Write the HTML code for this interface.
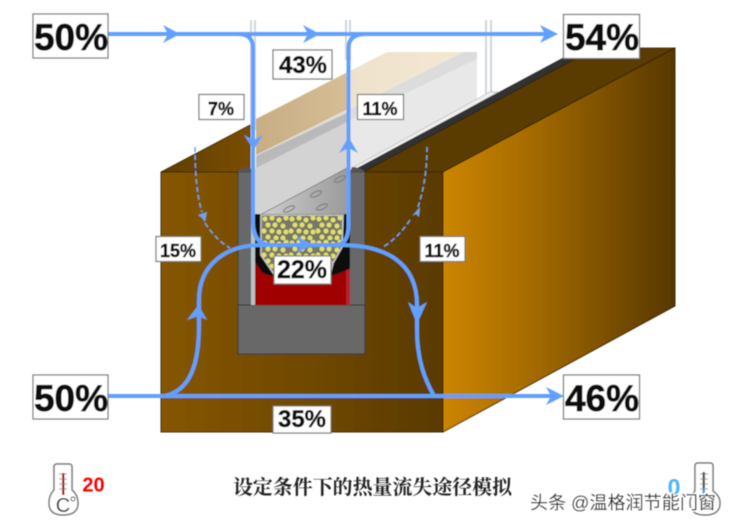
<!DOCTYPE html>
<html><head><meta charset="utf-8"><style>
html,body{margin:0;padding:0;background:#fff}
svg{display:block}
.p{font-family:"Liberation Sans",sans-serif;font-weight:bold;fill:#111;stroke:#111;stroke-width:.7;text-anchor:middle}
.s{stroke-width:.45}
</style></head><body>
<svg width="734" height="526" viewBox="0 0 734 526" xmlns="http://www.w3.org/2000/svg">
<defs>
<linearGradient id="front" x1="0" x2="1" y1="0" y2="0"><stop offset="0" stop-color="#855600"/><stop offset="0.55" stop-color="#6f4802"/><stop offset="1" stop-color="#5a3a05"/></linearGradient>
<linearGradient id="side" x1="0" x2="1" y1="0" y2="0"><stop offset="0" stop-color="#cc8500"/><stop offset="0.35" stop-color="#a86d00"/><stop offset="1" stop-color="#573805"/></linearGradient>
<linearGradient id="topl" x1="0" x2="1" y1="0" y2="0"><stop offset="0" stop-color="#5f3e05"/><stop offset="1" stop-color="#7a4e02"/></linearGradient>
<linearGradient id="tan" gradientUnits="userSpaceOnUse" x1="256" x2="477" y1="0" y2="0"><stop offset="0" stop-color="#c8ad85"/><stop offset="0.41" stop-color="#d6bd94"/><stop offset="0.42" stop-color="#eee2cd"/><stop offset="1" stop-color="#f5e8d2"/></linearGradient>
<linearGradient id="perf" x1="0" x2="1" y1="0" y2="0"><stop offset="0" stop-color="#cfcfcf"/><stop offset="1" stop-color="#999"/></linearGradient>
<pattern id="balls" width="27" height="24" patternUnits="userSpaceOnUse" x="262" y="216">
<rect width="27" height="24" fill="#77776a"/>
<g fill="#e2e06a">
<circle cx="3" cy="3" r="2.5"/><circle cx="10" cy="2" r="2.5"/><circle cx="17" cy="4" r="2.5"/><circle cx="24" cy="2" r="2.5"/>
<circle cx="6" cy="9" r="2.5"/><circle cx="13" cy="9" r="2.5"/><circle cx="21" cy="10" r="2.5"/>
<circle cx="2" cy="15" r="2.5"/><circle cx="10" cy="15" r="2.5"/><circle cx="17" cy="16" r="2.5"/><circle cx="24" cy="16" r="2.5"/>
<circle cx="6" cy="21" r="2.5"/><circle cx="14" cy="22" r="2.5"/><circle cx="21" cy="22" r="2.5"/>
</g>
</pattern>
<filter id="soft"><feGaussianBlur stdDeviation="0.45"/></filter>
</defs>
<g filter="url(#soft)">
<!-- glass pane verticals -->
<g fill="#cfd5d8">
<rect x="250" y="20" width="6" height="110"/>
<rect x="345" y="20" width="6" height="40"/>
<rect x="485" y="20" width="7" height="74"/>
</g>
<rect x="252" y="20" width="2" height="110" fill="#fff"/><rect x="347" y="20" width="2" height="40" fill="#fff"/><rect x="487" y="20" width="3" height="74" fill="#fff"/>
<!-- glass unit -->
<polygon points="256,165 347,122 477,59 477,99 352,168 256,216" fill="#e8e8e8"/>
<polygon points="256,168 347,122 347,171 256,216" fill="#d3d3d3"/>
<polygon points="256,155 347,110 463,52 477,52 477,59 347,122 256,168" fill="#dcdcdc"/>
<polygon points="256,156 347,113 347,122 256,168" fill="#b9b9b9"/>
<polygon points="256,119 387,52 463,52 256,155" fill="url(#tan)"/>
<polygon points="352,168 490,92 498,92 360,170" fill="#f0f0f0" stroke="#b5b5b5" stroke-width=".7"/>
<!-- brown top faces -->
<polygon points="161,172 250,125 250,170 238,172" fill="url(#topl)" stroke="#3a2604" stroke-width=".8"/>
<polygon points="352,171 563,58 577,58 363,172" fill="#333" stroke="#222" stroke-width=".5"/>
<polygon points="363,172 577,58 600,48 675,48 443,172" fill="#5a3a03" stroke="#2f1f04" stroke-width=".8"/>
<!-- right side -->
<polygon points="443,172 675,48 675,306 443,432" fill="url(#side)" stroke="#2f1f04" stroke-width=".9"/>
<!-- front face -->
<rect x="161" y="172" width="282" height="260" fill="url(#front)" stroke="#2f1f04" stroke-width=".9"/>
<!-- channel -->
<rect x="238" y="172" width="127" height="133" fill="#676767" stroke="#333" stroke-width=".8"/>
<path d="M238 172 Q242 167 250 167 L252 172 Z M365 172 Q360 167 352 167 L350 172 Z" fill="#555"/>
<rect x="238" y="305" width="127" height="49" fill="#676767" stroke="#333" stroke-width=".9"/>
<!-- cavity -->
<rect x="251" y="168" width="99" height="50" fill="#d3d3d3"/>
<polygon points="260,215 347,168 350,168 350,215" fill="url(#perf)" stroke="#555" stroke-width=".6"/>
<g fill="none" stroke="#7c7c7c" stroke-width="1.1">
<ellipse cx="289" cy="209" rx="6" ry="2.2" transform="rotate(-25 289 209)"/>
<ellipse cx="322" cy="207" rx="6" ry="2.2" transform="rotate(-25 322 207)"/>
<ellipse cx="316" cy="194" rx="6" ry="2.2" transform="rotate(-25 316 194)"/>
<ellipse cx="340" cy="179" rx="6" ry="2.2" transform="rotate(-25 340 179)"/>
</g>
<rect x="251" y="214" width="99" height="91" fill="#111"/>
<rect x="251" y="218" width="4" height="87" fill="#b6c4c8"/>
<path d="M255 262 L262 272 Q268 276 274 276 L330 276 Q338 274 345 271 L350 268 L350 305 L255 305 Z" fill="#a00000"/>
<rect x="346" y="270" width="4" height="35" fill="#b32330"/>
<path d="M261 215 L343 215 L342 247 L333 263 L330 275 L276 277 L261 255 Z" fill="url(#balls)" stroke="#c4c4c4" stroke-width="1.6"/>
<!-- dashed arrows -->
<g fill="none" stroke="#6fa4e6" stroke-width="1.5" stroke-dasharray="5 3">
<path d="M195 147 Q195 190 202 212"/>
<path d="M205 223 Q216 240 230 248"/>
<path d="M427 147 Q427 180 418 207"/>
<path d="M410 220 Q398 238 383 247"/>
</g>
<polygon points="198,215 207,212 205,222 202,218" fill="#6fa4e6"/>
<polygon points="412,216 420,207 419,217 416,214" fill="#6fa4e6"/>
<!-- flow lines -->
<g fill="none" stroke="#62a0ff" stroke-width="4">
<path d="M108 34 L550 34"/>
<path d="M238 34 Q253 34 253 48 L253 222 Q253 245 272 245 L335 245 Q348.500 245 348.500 225 L348.500 48 Q348.500 34 366 34"/>
<path d="M108 396 L555 396"/>
<path d="M165 396 C190 390 199 365 199 325 L199 300 C199 265 225 245 262 245 L340 245 C385 245 417 262 417 305 L417 330 C417 360 425 380 434 396"/>
</g>
<g fill="#62a0ff">
<polygon points="558,34 540,25 545,34 540,43"/>
<polygon points="564,396 546,387 551,396 546,405"/>
<polygon points="180,34 163,25 168,34 163,43"/>
<polygon points="320,34 303,25 308,34 303,43"/>
<polygon points="253.500,150 244,135 253.500,140 263,135"/>
<polygon points="348.500,137 339,153 348.500,148 358,153"/>
<polygon points="198.500,305 187,320 198.500,316 207,320"/>
<polygon points="417,324 408,302 417,308 427,302"/>
<polygon points="312,245 297,236 301,245 297,253"/>
</g>
<!-- labels -->
<g fill="#fff" stroke="#777" stroke-width="1.2">
<rect x="33" y="14" width="75" height="44"/>
<rect x="563.500" y="14.500" width="76" height="44"/>
<rect x="33" y="375" width="75" height="44"/>
<rect x="563.500" y="375" width="76" height="44"/>
<rect x="273" y="50" width="59" height="29"/>
<rect x="199" y="94.500" width="45" height="25"/>
<rect x="357.500" y="94.500" width="46" height="25"/>
<rect x="156" y="236.500" width="45" height="25"/>
<rect x="420" y="236.500" width="45" height="25"/>
<rect x="274" y="256" width="57" height="28"/>
<rect x="273" y="406" width="58" height="27"/>
</g>
<text class="p" x="71" y="50" font-size="37">50%</text>
<text class="p" x="602" y="50" font-size="37">54%</text>
<text class="p" x="71" y="411" font-size="37">50%</text>
<text class="p" x="602" y="411" font-size="37">46%</text>
<text class="p s" x="303" y="73" font-size="24">43%</text>
<text class="p s" x="221" y="115" font-size="18">7%</text>
<text class="p s" x="380" y="115" font-size="18">11%</text>
<text class="p s" x="178" y="257" font-size="18">15%</text>
<text class="p s" x="442" y="257" font-size="18">11%</text>
<text class="p s" x="302" y="278" font-size="25">22%</text>
<text class="p s" x="302" y="427" font-size="24">35%</text>
<!-- thermometer left -->
<path d="M54 490 L54 467 Q54 464 57 464 L69 464 Q72 464 72 467 L72 490 Q78 495 78 503 Q78 515 63 515 Q49 515 49 503 Q49 495 54 490 Z" fill="#fff" stroke="#777" stroke-width="1.5"/>
<rect x="62" y="473" width="2.500" height="22" fill="#b81010"/>
<path d="M59 474H67M59 479H67M59 484H67M59 489H67" stroke="#777" stroke-width=".8"/>
<text x="63" y="512" font-family="Liberation Sans,sans-serif" font-size="20" fill="#333" text-anchor="middle">C</text>
<circle cx="73" cy="499" r="2" fill="none" stroke="#333" stroke-width=".9"/>
<text x="93.500" y="491.500" font-family="Liberation Sans,sans-serif" font-weight="bold" font-size="20" fill="#f00" text-anchor="middle">20</text>
<!-- thermometer right -->
<path d="M695 491 L695 466 Q695 463 698 463 L710 463 Q713 463 713 466 L713 491 Q720 496 720 503 Q720 515 705 515 Q690 515 690 503 Q690 496 695 491 Z" fill="#fff" stroke="#777" stroke-width="1.5"/>
<rect x="702.500" y="472" width="2.500" height="24" fill="#555"/>
<path d="M700 474H708M700 479H708M700 484H708M700 489H708" stroke="#777" stroke-width=".8"/>
<rect x="702.500" y="488" width="2.500" height="8" fill="#2f9bd8"/>
<text x="674" y="495" font-family="Liberation Sans,sans-serif" font-weight="bold" font-size="23" fill="#4db4ff" text-anchor="middle">0</text>
<!-- caption -->
<text x="233" y="494" font-family="Liberation Serif,Noto Serif CJK SC,serif" font-size="19.900" font-weight="bold" fill="#222" textLength="279">设定条件下的热量流失途径模拟</text>
<g font-family="Liberation Sans,Noto Sans CJK SC,sans-serif" font-size="18.100" fill="#111" stroke="#fff" stroke-width="2.500" paint-order="stroke">
<text x="530" y="509">头条</text>
<text x="571" y="509">@温格润节能门窗</text>
</g>
</g>
</svg>
</body></html>
